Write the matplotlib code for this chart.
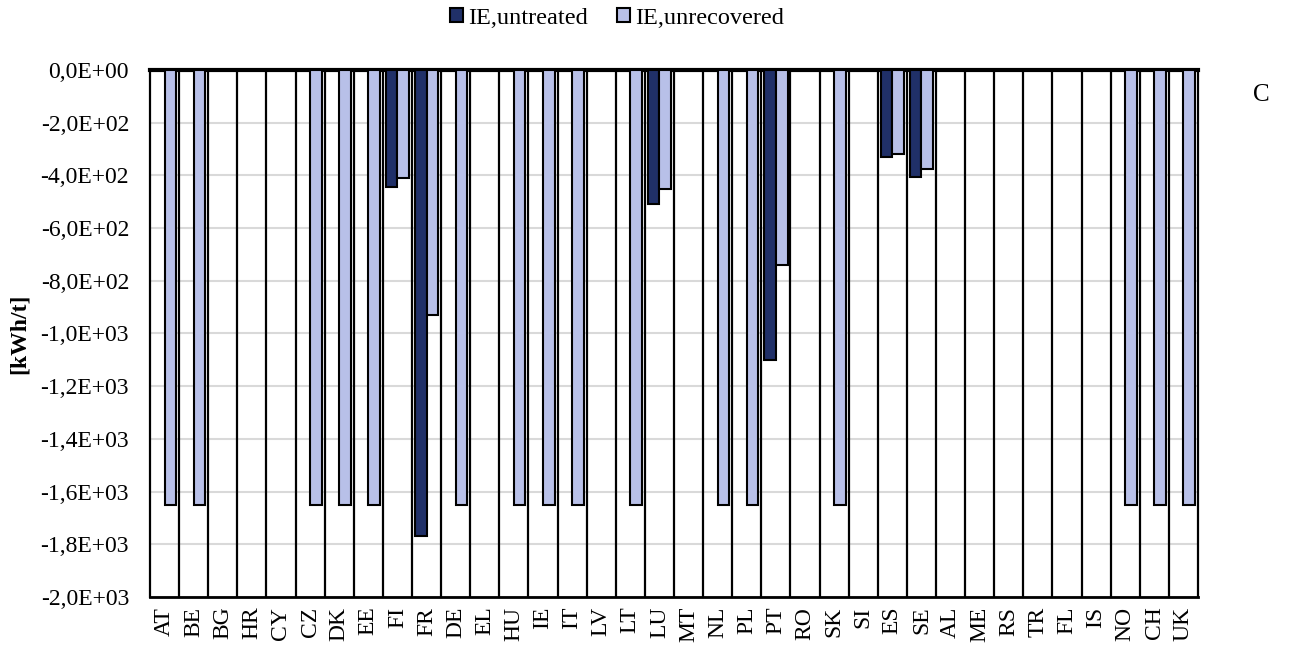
import numpy as np
import matplotlib
matplotlib.use("Agg")
import matplotlib.pyplot as plt
from matplotlib.ticker import FuncFormatter, MultipleLocator
from matplotlib.patches import Patch

countries = ["AT", "BE", "BG", "HR", "CY", "CZ", "DK", "EE", "FI", "FR",
             "DE", "EL", "HU", "IE", "IT", "LV", "LT", "LU", "MT", "NL",
             "PL", "PT", "RO", "SK", "SI", "ES", "SE", "AL", "ME", "RS",
             "TR", "FL", "IS", "NO", "CH", "UK"]

ie_untreated = [0, 0, 0, 0, 0, 0, 0, 0, -445, -1770,
                0, 0, 0, 0, 0, 0, 0, -510, 0, 0,
                0, -1100, 0, 0, 0, -330, -405, 0, 0, 0,
                0, 0, 0, 0, 0, 0]

ie_unrecovered = [-1650, -1650, 0, 0, 0, -1650, -1650, -1650, -410, -930,
                  -1650, 0, -1650, -1650, -1650, 0, -1650, -450, 0, -1650,
                  -1650, -740, 0, -1650, 0, -320, -375, 0, 0, 0,
                  0, 0, 0, -1650, -1650, -1650]

dark = "#203068"
light = "#b8c0e8"

plt.rcParams["font.family"] = ["Liberation Serif", "DejaVu Serif"]

fig = plt.figure(figsize=(13.13, 6.46), dpi=100)
ax = fig.add_axes([0.1142, 0.0759, 0.7982, 0.8157])

x = np.arange(len(countries))
w = 0.4
ax.bar(x - 0.2, ie_untreated, w, color=dark, edgecolor="black", linewidth=1.5, zorder=3)
ax.bar(x + 0.2, ie_unrecovered, w, color=light, edgecolor="black", linewidth=1.5, zorder=3)

ax.set_xlim(-0.5, len(countries) - 0.5)
ax.set_ylim(-2000, 0)
ax.yaxis.set_major_locator(MultipleLocator(200))
ax.yaxis.set_major_formatter(FuncFormatter(lambda v, p: f"{v:.1E}".replace(".", ",")))
ax.grid(axis="y", color="#d9d9d9", linewidth=1.5, zorder=0)

# category separators
for b in np.arange(0.5, len(countries) - 1, 1.0):
    ax.axvline(b, color="black", linewidth=1.6, zorder=2)

ax.set_xticks(x)
ax.set_xticklabels(countries, rotation=90)
ax.tick_params(axis="x", length=0, labelsize=17, pad=7)
ax.tick_params(axis="y", length=0, labelsize=17, pad=15)

for side in ["left", "right"]:
    ax.spines[side].set_linewidth(1.6)
ax.spines["bottom"].set_linewidth(2)
ax.spines["top"].set_linewidth(3)

ax.set_ylabel("[kWh/t]", fontsize=17, fontweight="bold", labelpad=8)

handles = [Patch(facecolor=dark, edgecolor="black", linewidth=1.5, label="IE,untreated"),
           Patch(facecolor=light, edgecolor="black", linewidth=1.5, label="IE,unrecovered")]
fig.legend(handles=handles, loc="center", bbox_to_anchor=(0.47, 0.972), ncol=2,
           frameon=False, fontsize=17.5, handlelength=0.55, handleheight=0.55,
           handletextpad=0.2, columnspacing=1.2)

fig.text(0.961, 0.853, "C", fontsize=18, ha="center", va="center")

fig.savefig("out.png", dpi=100)
